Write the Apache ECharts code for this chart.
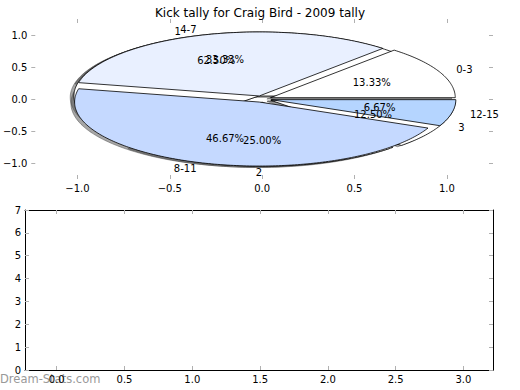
<!DOCTYPE html>
<html><head><meta charset="utf-8">
<script src="https://cdn.jsdelivr.net/npm/echarts@6/dist/echarts.min.js"></script>
<style>html,body{margin:0;padding:0;background:#fff}#c{width:520px;height:390px}</style>
</head><body><div id="c"></div>
<script>
const titleText = 'Kick tally for Craig Bird - 2009 tally';
const groupCategories = ['0-3', '4-7', '8-11', '12-15'];
const groupValues = [2, 5, 7, 1];
const kickCategories = ['1', '2', '3'];
const kickValues = [5, 2, 1];
const pieTicks = [-1.0, -0.5, 0.0, 0.5, 1.0];
const barXTicks = [0, 0.5, 1, 1.5, 2, 2.5, 3];
const barYTicks = [0, 1, 2, 3, 4, 5, 6, 7];
const watermark = 'Dream-Stats.com';

const groupColors = ['#ffffff', '#e9f0ff', '#c5d9ff', '#b5d5ff'];
const kickColors = ['#ffffff', '#ffffff', '#ffffff'];
const EXPLODE = 0.05;
const SHADOW = [-0.02, -0.02];
const FONT = 'DejaVu Sans';
const FS = 10;

function wedges(values) {
  const total = values.reduce((a, b) => a + b, 0);
  let a = 0;
  return values.map(v => { const s = a; a += v / total * 360; return {start: s, end: a, mid: (s + a) / 2, frac: v / total}; });
}
const groupW = wedges(groupValues), kickW = wedges(kickValues);
const rad = d => d * Math.PI / 180;

function wedgePoints(api, w, dx, dy) {
  const cx = EXPLODE * Math.cos(rad(w.mid)) + dx, cy = EXPLODE * Math.sin(rad(w.mid)) + dy;
  const pts = [api.coord([cx, cy])];
  const n = Math.max(2, Math.ceil(w.end - w.start));
  for (let i = 0; i <= n; i++) {
    const t = rad(w.start + (w.end - w.start) * i / n);
    pts.push(api.coord([cx + Math.cos(t), cy + Math.sin(t)]));
  }
  return pts;
}

const allW = kickW.map((w, i) => ({w, pie: 'kick', i})).concat(groupW.map((w, i) => ({w, pie: 'group', i})));

function wedgeSeries(list, colors) {
  return {
    type: 'custom', coordinateSystem: 'cartesian2d', xAxisIndex: 0, yAxisIndex: 0, silent: true, clip: false,
    data: list.map(() => [0, 0]),
    renderItem: (params, api) => {
      const w = list[params.dataIndex];
      return {type: 'polygon', shape: {points: wedgePoints(api, w, 0, 0)},
        style: {fill: colors[params.dataIndex], stroke: '#000', lineWidth: 0.8}};
    }
  };
}

const axisLabelStyle = {fontFamily: FONT, fontSize: FS, color: '#000'};
const fmt1 = v => (v < 0 ? '\u2212' : '') + Math.abs(v).toFixed(1);
const tickStyle = {lineStyle: {color: '#b0b0b0', width: 1}};

function mkX(grid, pos, min, max, ticks, labels, line, formatter) {
  return {type: 'value', gridIndex: grid, position: pos, min, max,
    splitLine: {show: false},
    axisLine: {show: line, onZero: false, lineStyle: {color: '#000', width: 1}},
    axisTick: Object.assign({show: true, inside: true, length: 4, customValues: ticks}, tickStyle),
    axisLabel: Object.assign({show: labels, customValues: ticks, margin: 4, formatter}, axisLabelStyle)};
}

const chart = echarts.init(document.getElementById('c'), null, {renderer: 'svg'});
chart.setOption({
  animation: false,
  backgroundColor: '#fff',
  title: {text: titleText, left: 'center', top: 2, textStyle: {fontFamily: FONT, fontSize: 12, fontWeight: 'normal', color: '#000'}},
  grid: [
    {left: 26, top: 19, width: 467, height: 160},
    {left: 25, top: 210, width: 468, height: 160}
  ],
  xAxis: [
    mkX(0, 'bottom', -1.25, 1.25, pieTicks, true, false, fmt1),
    mkX(0, 'top', -1.25, 1.25, pieTicks, false, false, fmt1),
    mkX(1, 'bottom', -0.234, 3.218, barXTicks, true, true, v => v.toFixed(1)),
    mkX(1, 'top', -0.234, 3.218, barXTicks, false, true, v => v.toFixed(1))
  ],
  yAxis: [
    mkX(0, 'left', -1.25, 1.25, pieTicks, true, false, fmt1),
    mkX(0, 'right', -1.25, 1.25, pieTicks, false, false, fmt1),
    mkX(1, 'left', 0, 7, barYTicks, true, true, v => String(v)),
    mkX(1, 'right', 0, 7, barYTicks, false, true, v => String(v))
  ],
  series: [
    {
      type: 'custom', coordinateSystem: 'cartesian2d', xAxisIndex: 0, yAxisIndex: 0, silent: true, clip: false,
      data: allW.map(() => [0, 0]),
      renderItem: (params, api) => {
        const w = allW[params.dataIndex].w;
        return {type: 'polygon', shape: {points: wedgePoints(api, w, SHADOW[0], SHADOW[1])},
          style: {fill: 'rgba(77,77,77,0.5)', stroke: 'rgba(77,77,77,0.5)', lineWidth: 1}};
      }
    },
    wedgeSeries(kickW, kickColors),
    wedgeSeries(groupW, groupColors),
    {
      type: 'custom', coordinateSystem: 'cartesian2d', xAxisIndex: 0, yAxisIndex: 0, silent: true, clip: false,
      data: allW.map(() => [0, 0]),
      renderItem: (params, api) => {
        const item = allW[params.dataIndex];
        const w = item.w;
        const name = item.pie === 'kick' ? kickCategories[item.i] : groupCategories[item.i];
        const cx = EXPLODE * Math.cos(rad(w.mid)), cy = EXPLODE * Math.sin(rad(w.mid));
        const lx = cx + 1.1 * Math.cos(rad(w.mid)), ly = cy + 1.1 * Math.sin(rad(w.mid));
        const px = cx + 0.6 * Math.cos(rad(w.mid)), py = cy + 0.6 * Math.sin(rad(w.mid));
        const lp = api.coord([lx, ly]), pp = api.coord([px, py]);
        return {type: 'group', children: [
          {type: 'text', x: lp[0], y: lp[1], style: {text: name, fill: '#000', font: FS + 'px "' + FONT + '"',
            textAlign: lx > 0 ? 'left' : 'right', textVerticalAlign: 'middle'}},
          {type: 'text', x: pp[0], y: pp[1], style: {text: (w.frac * 100).toFixed(2) + '%', fill: '#000', font: FS + 'px "' + FONT + '"',
            textAlign: 'center', textVerticalAlign: 'middle'}}
        ]};
      }
    }
  ],
  graphic: [{type: 'text', left: 0, top: 373, style: {text: watermark, fill: '#999', font: '11.5px "' + FONT + '"'}}]
});
</script>
</body></html>
